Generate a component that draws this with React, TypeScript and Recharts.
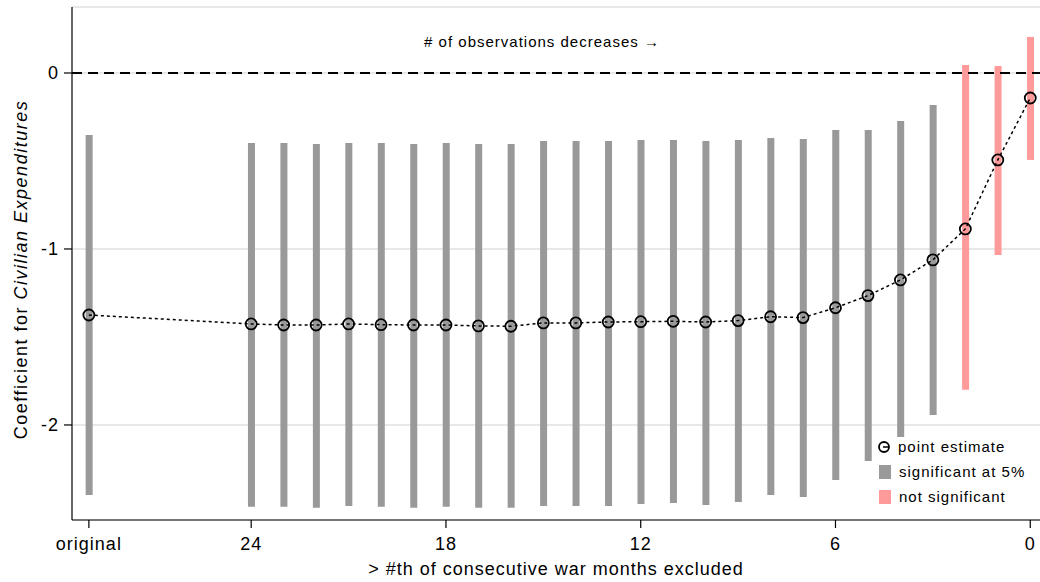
import React from 'react';
import {
  ComposedChart, Bar, Line, Cell, XAxis, YAxis, CartesianGrid, ReferenceLine, Label,
} from 'recharts';

// x position of each estimate: 29 stands for the "original" model, then 24 .. 0
const xPos = [29, 24, 23, 22, 21, 20, 19, 18, 17, 16, 15, 14, 13, 12, 11, 10, 9, 8, 7, 6, 5, 4, 3, 2, 1, 0];

const estimate = [
  -1.375, -1.426, -1.432, -1.432, -1.426, -1.430, -1.432, -1.432, -1.437, -1.439,
  -1.420, -1.420, -1.415, -1.413, -1.411, -1.415, -1.407, -1.385, -1.390, -1.334,
  -1.265, -1.176, -1.062, -0.886, -0.494, -0.142,
];

const ciLow = [
  -2.398, -2.464, -2.464, -2.470, -2.460, -2.464, -2.470, -2.464, -2.470, -2.470,
  -2.460, -2.460, -2.460, -2.449, -2.443, -2.455, -2.438, -2.398, -2.409, -2.313,
  -2.205, -2.068, -1.943, -1.800, -1.034, -0.494,
];

const ciHigh = [
  -0.352, -0.398, -0.398, -0.403, -0.398, -0.398, -0.403, -0.398, -0.403, -0.403,
  -0.386, -0.386, -0.386, -0.381, -0.381, -0.386, -0.381, -0.369, -0.375, -0.324,
  -0.324, -0.273, -0.182, 0.045, 0.040, 0.205,
];

const xTicks = [29, 24, 18, 12, 6, 0];
const yTicks = [0, -1, -2];

const GRAY = '#999999';
const PINK = '#ff9a9a';
const FONT = '"Liberation Sans", Arial, Helvetica, sans-serif';

const data = xPos.map((x, i) => ({
  x,
  est: estimate[i],
  ci: [ciLow[i], ciHigh[i]],
  sig: ciHigh[i] < 0,
}));

const PointDot = ({ cx, cy }: any) => (
  <circle cx={cx} cy={cy} r={5.5} fill="none" stroke="#000" strokeWidth={1.8} />
);

const YTitle = ({ viewBox }: any) => {
  const cx = 21;
  const cy = viewBox.y + viewBox.height / 2 + 6;
  return (
    <text x={cx} y={cy} transform={`rotate(-90, ${cx}, ${cy})`} textAnchor="middle"
      dominantBaseline="central" fontSize={18} letterSpacing={1.5} fill="#000" fontFamily={FONT}>
      <tspan>Coefficient for </tspan>
      <tspan fontStyle="italic">Civilian Expenditures</tspan>
    </text>
  );
};

const LegendBox = () => (
  <div style={{
    position: 'absolute', left: 877, top: 434, fontFamily: FONT, fontSize: 15,
    letterSpacing: 1, color: '#000', lineHeight: '25px',
  }}>
    <div style={{ display: 'flex', alignItems: 'center' }}>
      <svg width={18} height={14} style={{ marginRight: 3 }}>
        <circle cx={7} cy={7} r={5} fill="none" stroke="#000" strokeWidth={1.8} />
        <line x1={6} y1={7} x2={12} y2={7} stroke="#000" strokeWidth={1.5} />
      </svg>
      point estimate
    </div>
    <div style={{ display: 'flex', alignItems: 'center' }}>
      <span style={{ width: 12, height: 14, background: GRAY, margin: '0 8px 0 2px', display: 'inline-block' }} />
      significant at 5%
    </div>
    <div style={{ display: 'flex', alignItems: 'center' }}>
      <span style={{ width: 12, height: 14, background: PINK, margin: '0 8px 0 2px', display: 'inline-block' }} />
      not significant
    </div>
  </div>
);

export default function App() {
  return (
    <div style={{ position: 'absolute', left: 0, top: 0, width: 1040, height: 582, background: '#fff' }}>
      <ComposedChart width={1040} height={582} data={data}
        margin={{ top: 7, right: 0, left: 0, bottom: 0 }}>
        <CartesianGrid horizontal vertical={false} stroke="#e0e0e0" strokeWidth={1.5} />
        <XAxis
          dataKey="x" type="number" reversed domain={[-0.3, 29.52]} ticks={xTicks}
          tickFormatter={(v: number) => (v === 29 ? 'original' : String(v))}
          height={62} tickSize={8} tickMargin={9}
          tick={{ fill: '#000', fontSize: 18, fontFamily: FONT, letterSpacing: 1 }}
          axisLine={{ stroke: '#000', strokeWidth: 1.2 }} tickLine={{ stroke: '#000', strokeWidth: 1.2 }}
          allowDataOverflow
        >
          <Label value="> #th of consecutive war months excluded" position="insideBottom" offset={7}
            style={{ fill: '#000', fontSize: 18, fontFamily: FONT, letterSpacing: 1 }} />
        </XAxis>
        <YAxis
          type="number" domain={[-2.54, 0.375]} ticks={yTicks} width={72}
          tickSize={8} tickMargin={5}
          tick={{ fill: '#000', fontSize: 18, fontFamily: FONT, letterSpacing: 1 }}
          axisLine={{ stroke: '#000', strokeWidth: 1.2 }} tickLine={{ stroke: '#000', strokeWidth: 1.2 }}
          allowDataOverflow
        >
          <Label content={<YTitle />} />
        </YAxis>
        <ReferenceLine y={0} stroke="#000" strokeWidth={1.8} strokeDasharray="10 6" />
        <Bar dataKey="ci" barSize={7} isAnimationActive={false}>
          {data.map((d, i) => (
            <Cell key={i} fill={d.sig ? GRAY : PINK} />
          ))}
        </Bar>
        <Line dataKey="est" type="linear" stroke="#000" strokeWidth={1.5} strokeDasharray="3 3"
          dot={<PointDot />} activeDot={false} isAnimationActive={false} />
        <text x={542} y={41} textAnchor="middle" dominantBaseline="central" fontSize={15}
          letterSpacing={1} fontFamily={FONT} fill="#000"># of observations decreases →</text>
      </ComposedChart>
      <LegendBox />
    </div>
  );
}
